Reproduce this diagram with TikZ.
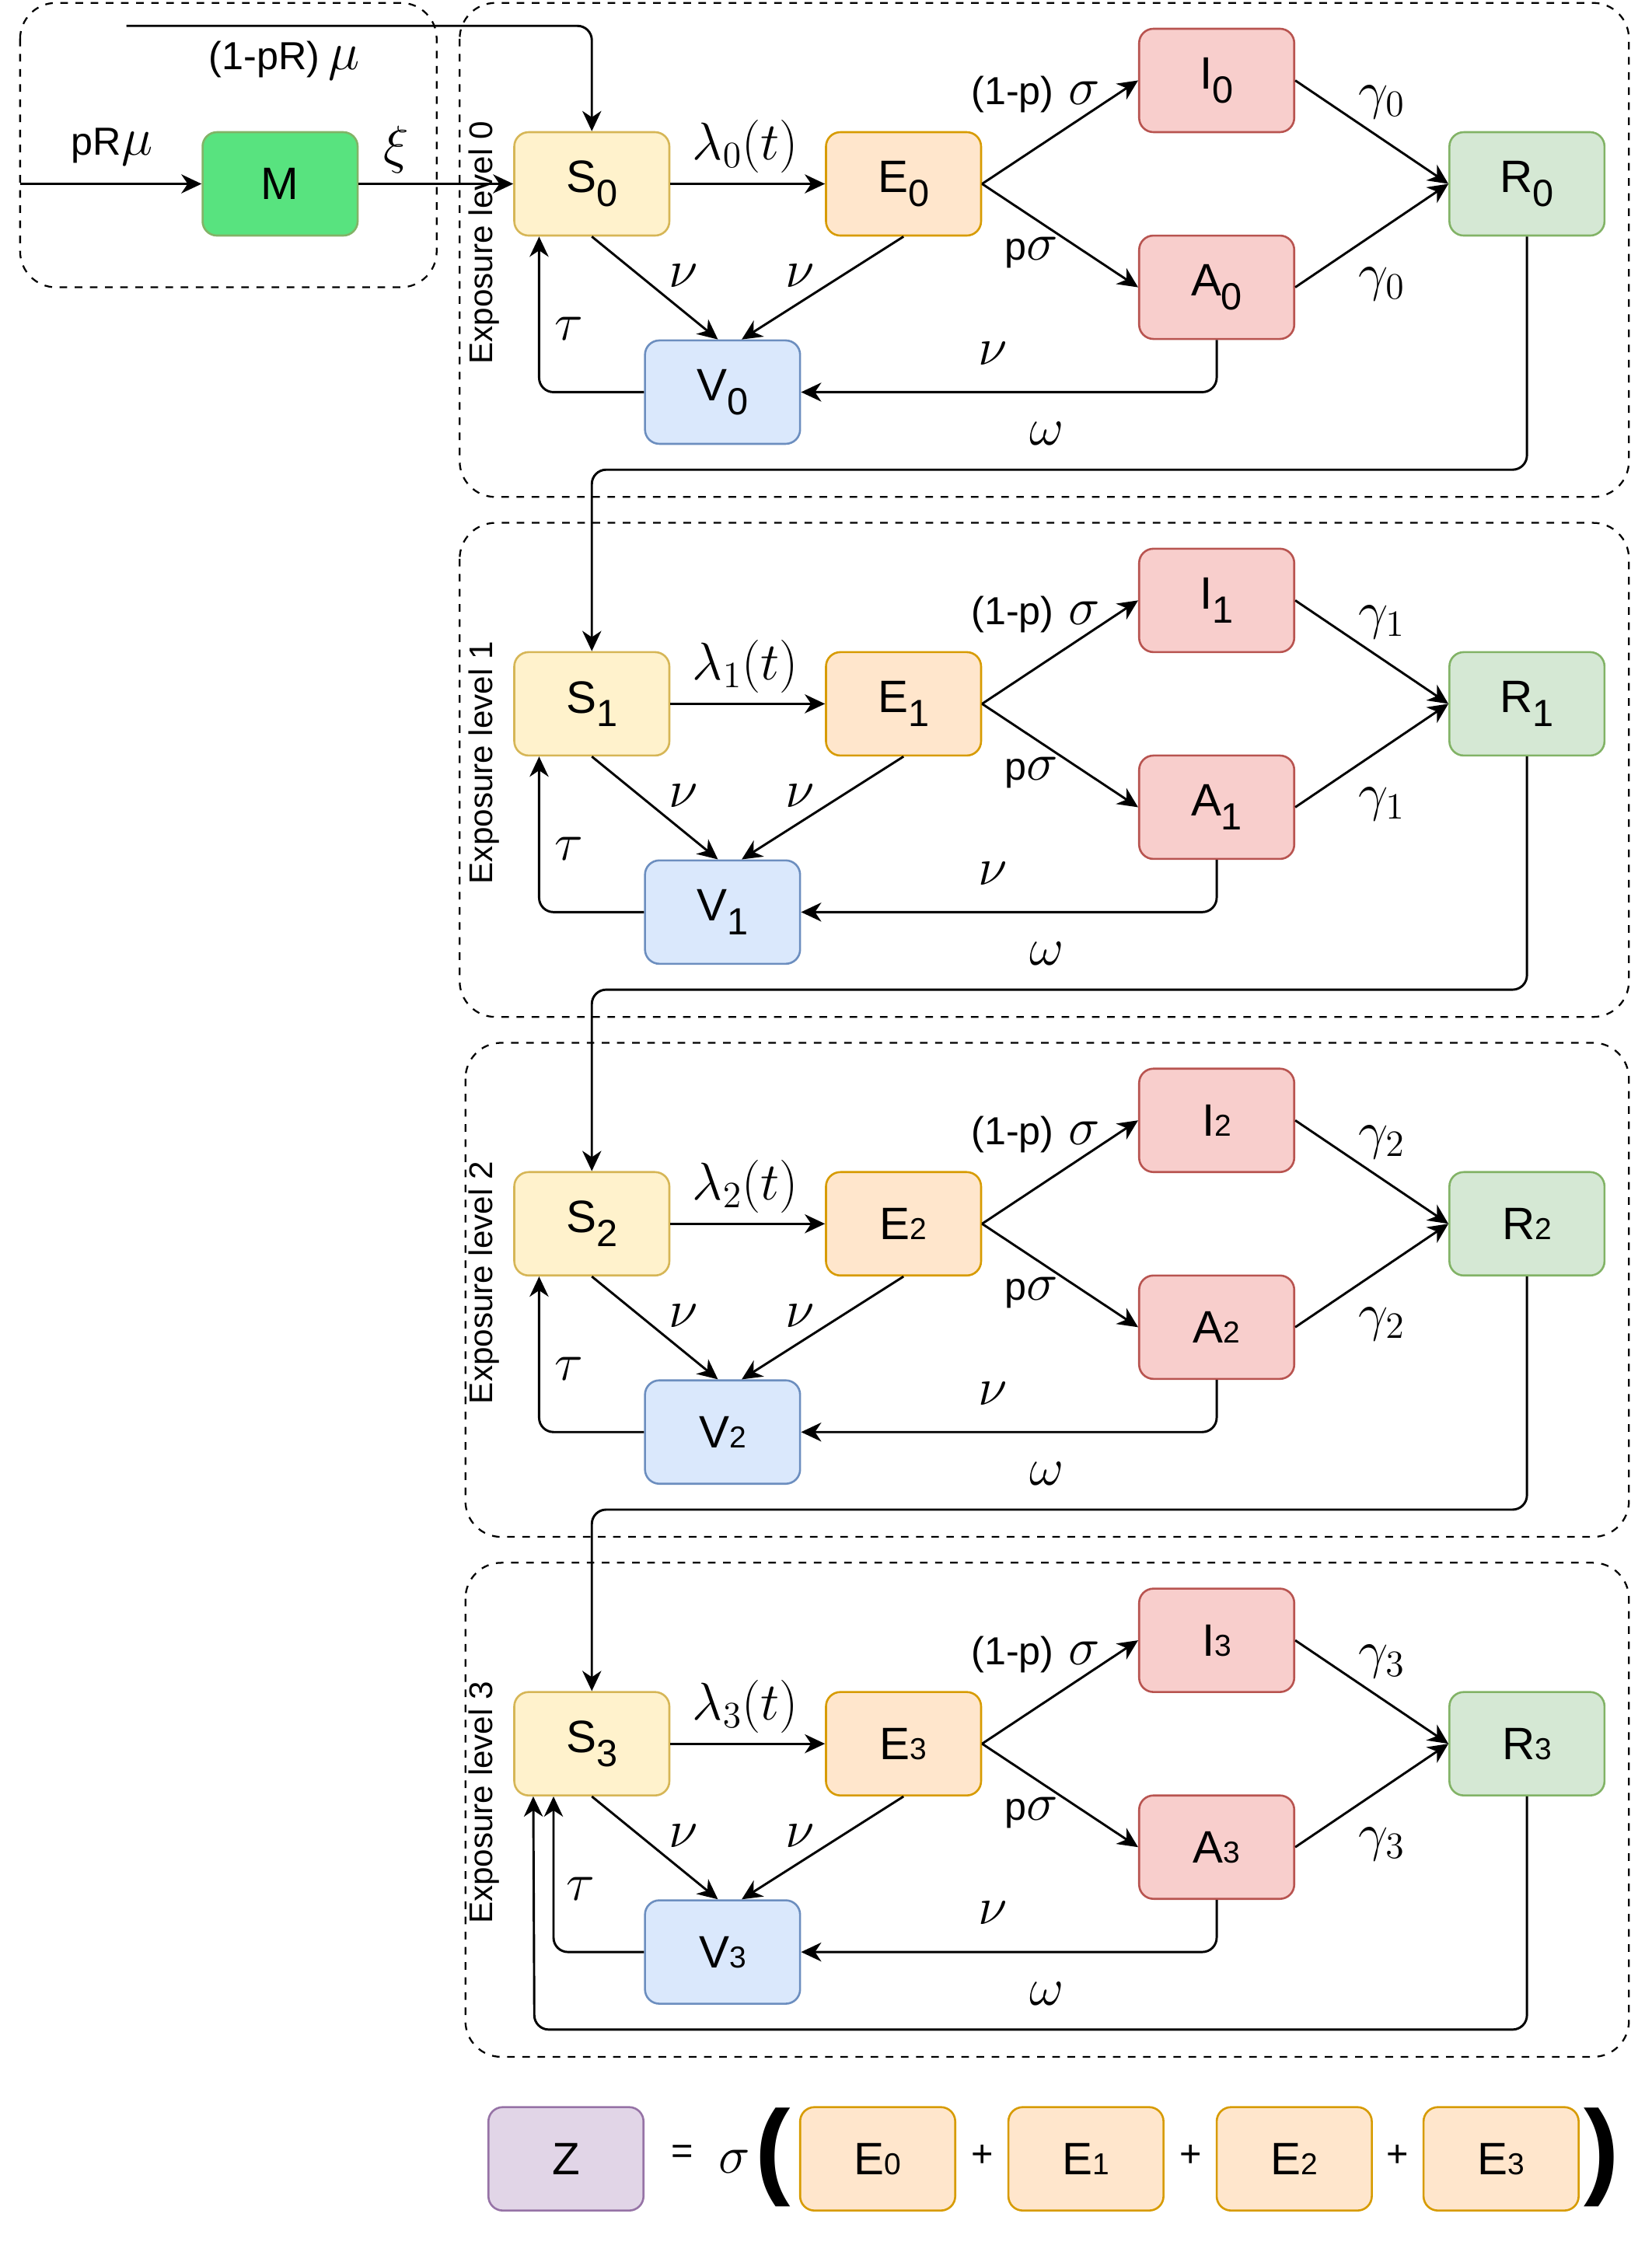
\RequirePackage{fix-cm}
\documentclass[tikz,border=0pt]{standalone}
\usepackage{fontspec}
\setmainfont{Liberation Sans}
\usepackage{amsmath}
\usepackage{tikz}
\usetikzlibrary{arrows.meta,backgrounds}

\definecolor{suscfill}{HTML}{FFF2CC}\definecolor{suscline}{HTML}{D6B656}
\definecolor{expofill}{HTML}{FFE6CC}\definecolor{expoline}{HTML}{D79B00}
\definecolor{infecfill}{HTML}{F8CECC}\definecolor{infecline}{HTML}{B85450}
\definecolor{recovfill}{HTML}{D5E8D4}\definecolor{recovline}{HTML}{82B366}
\definecolor{vaccfill}{HTML}{DAE8FC}\definecolor{vaccline}{HTML}{6C8EBF}
\definecolor{zfill}{HTML}{E1D5E7}\definecolor{zline}{HTML}{9673A6}
\definecolor{mfill}{HTML}{58E37F}

\newcommand\tx[1]{{\fontsize{15.5}{18}\selectfont #1}}
\newcommand\lsub[1]{\raisebox{-0.3em}{\fontsize{15}{15}\selectfont #1}}
\newcommand\lnum[1]{{\fontsize{12}{12}\selectfont #1}}
\newcommand\idx[1]{\ifnum#1<2 \lsub{#1}\else\lnum{#1}\fi}

\begin{document}
\begin{tikzpicture}[x=0.02cm,y=-0.02cm]
    % `comp' is the common box of a compartment, the others only add colours.
    % `flow' is used for every arrow, `lbl' for the rates.
    % `surround' is used for the dashed level boxes.
    \tikzstyle{comp} = [draw,rounded corners=2mm,minimum width=2.16cm,minimum height=1.44cm,inner sep=0pt,line width=0.8pt,font=\fontsize{18}{20}\selectfont]
    \tikzstyle{susc} = [comp,fill=suscfill,draw=suscline]
    \tikzstyle{expo} = [comp,fill=expofill,draw=expoline]
    \tikzstyle{infec} = [comp,fill=infecfill,draw=infecline]
    \tikzstyle{recov} = [comp,fill=recovfill,draw=recovline]
    \tikzstyle{vacc} = [comp,fill=vaccfill,draw=vaccline]
    \tikzstyle{zbox} = [comp,fill=zfill,draw=zline]
    \tikzstyle{mbox} = [comp,fill=mfill,draw=recovline]
    \tikzstyle{flow} = [-{Stealth[length=8pt,width=7.5pt,inset=2.5pt]},line width=0.9pt,rounded corners=2mm]
    \tikzstyle{lbl} = [inner sep=0pt,font=\fontsize{21}{24}\selectfont]
    \tikzstyle{surround} = [draw,dash pattern=on 3pt off 3pt,line width=0.7pt,rounded corners=5mm]
    \tikzstyle{bigpar} = [inner sep=0pt,font=\fontsize{42}{42}\selectfont\bfseries]
    %
    \useasboundingbox (0,0) rectangle (1150,1563);
    \begin{pgfonlayer}{background}
        \draw[surround] (14,2) rectangle (304,200);
    \end{pgfonlayer}
    \node[mbox] (M) at (195,128) {M};
    \coordinate (src) at (14,128);
    \coordinate (top) at (88,18);

    \foreach \l in {0,...,3} {
      \pgfmathtruncatemacro\oy{362*\l}
      \pgfmathtruncatemacro\bx{\l>1 ? 324 : 320}
      \pgfmathtruncatemacro\ta{\l<3 ? 225 : 234}
      \pgfmathtruncatemacro\taux{\l<3 ? 396 : 404}
      \begin{pgfonlayer}{background}
        \draw[surround] (\bx,{2+\oy}) rectangle (1134,{346+\oy});
      \end{pgfonlayer}
      \node[rotate=90,inner sep=0pt,font=\fontsize{13}{15}\selectfont] (lvl\l) at (337,{169+\oy}) {Exposure level \l};
      \node[susc] (S\l) at (412,{128+\oy}) {S\lsub{\l}};
      \node[expo] (E\l) at (629,{128+\oy}) {E\idx{\l}};
      \node[infec] (I\l) at (847,{56+\oy}) {I\idx{\l}};
      \node[infec] (A\l) at (847,{200+\oy}) {A\idx{\l}};
      \node[recov] (R\l) at (1063,{128+\oy}) {R\idx{\l}};
      \node[vacc] (V\l) at (503,{273+\oy}) {V\idx{\l}};
      \coordinate (w\l) at (412,{327+\oy});
      % rates
      \node[lbl] (lam\l) at (519,{102+\oy}) {$\lambda_{\l}(t)$};
      \node[lbl] (sym\l) at (721,{66+\oy}) {\tx{(1-p)} $\sigma$};
      \node[lbl] (asy\l) at (718,{176+\oy}) {\tx{p}$\sigma$};
      \node[lbl] (gi\l) at (962,{71+\oy}) {$\gamma_{\l}$};
      \node[lbl] (ga\l) at (962,{198+\oy}) {$\gamma_{\l}$};
      \node[lbl] (nus\l) at (476,{192+\oy}) {$\nu$};
      \node[lbl] (nue\l) at (557,{192+\oy}) {$\nu$};
      \node[lbl] (nua\l) at (691,{246+\oy}) {$\nu$};
      \node[lbl] (tau\l) at (\taux,{229+\oy}) {$\tau$};
      \node[lbl] (om\l) at (729,{302+\oy}) {$\omega$};
      % arrows
      \draw[flow] (S\l) -- (E\l);
      \draw[flow] (E\l.east) -- (I\l.west);
      \draw[flow] (E\l.east) -- (A\l.west);
      \draw[flow] (I\l.east) -- (R\l.west);
      \draw[flow] (A\l.east) -- (R\l.west);
      \draw[flow] (S\l.south) -- (V\l.95);
      \draw[flow] (E\l.south) -- (V\l.70);
      \draw[flow] (A\l.south) |- (V\l.east);
      \draw[flow] (V\l.west) -| (S\l.\ta);
    }
    \foreach \l/\n in {0/1,1/2,2/3}
      \draw[flow] (R\l.south) |- (w\l) -- (S\n.north);
    \coordinate (w3) at (372,1413);
    \draw[flow] (R3.south) |- (w3) -- (S3.222);

    % inflow into level 0
    \draw[flow] (src) -- (M);
    \draw[flow] (M) -- (S0);
    \draw[flow] (top) -| (S0.north);
    \node[lbl] (prm) at (78,102) {\tx{pR}$\mu$};
    \node[lbl] (xi) at (276,104) {$\xi$};
    \node[lbl] (qrm) at (198,42) {\tx{(1-pR)}$\,\mu$};

    % Z = sigma ( E0 + E1 + E2 + E3 )
    \node[zbox] (Z) at (394,1503) {Z};
    \node[inner sep=0pt,font=\fontsize{15}{17}\selectfont] (eq) at (475,1500) {=};
    \node[lbl] (sig) at (511,1505) {$\sigma$};
    \node[bigpar] (lp) at (538,1502) {(};
    \node[bigpar] (rp) at (1115,1502) {)};
    \foreach \k/\x in {0/611,1/756,2/901,3/1045}
      \node[expo] (sum\k) at (\x,1503) {E\lnum{\k}};
    \foreach \k/\x in {1/684,2/829,3/973}
      \node[inner sep=0pt,font=\fontsize{15}{17}\selectfont] (plus\k) at (\x,1501) {+};
\end{tikzpicture}
\end{document}
